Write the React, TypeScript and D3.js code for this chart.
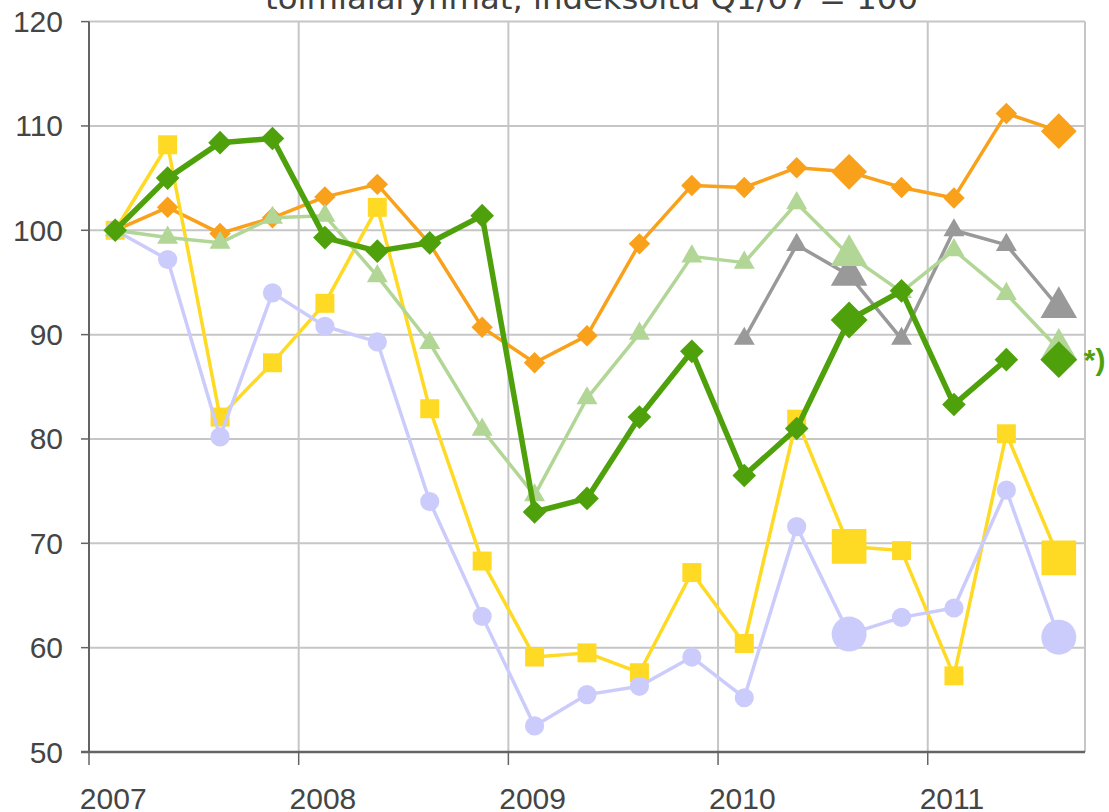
import React from "react";
import * as d3 from "d3";

// quarters on the category axis
const quarters = [
  "2007Q1", "2007Q2", "2007Q3", "2007Q4",
  "2008Q1", "2008Q2", "2008Q3", "2008Q4",
  "2009Q1", "2009Q2", "2009Q3", "2009Q4",
  "2010Q1", "2010Q2", "2010Q3", "2010Q4",
  "2011Q1", "2011Q2", "2011Q3",
];
const yearLabels = ["2007", "2008", "2009", "2010", "2011"];
const yTicks = [50, 60, 70, 80, 90, 100, 110, 120];
const highlighted = ["2010Q3", "2011Q3"];

const orange = [100, 102.2, 99.7, 101.2, 103.2, 104.4, 98.7, 90.7, 87.3, 89.9, 98.7, 104.3, 104.1, 106.0, 105.6, 104.1, 103.1, 111.2, 109.5];
const yellow = [100, 108.2, 82.1, 87.3, 93.0, 102.2, 82.9, 68.3, 59.1, 59.5, 57.6, 67.2, 60.4, 81.9, 69.7, 69.3, 57.3, 80.5, 68.6];
const lavender = [100, 97.2, 80.2, 94.0, 90.8, 89.3, 74.0, 63.0, 52.5, 55.5, 56.3, 59.1, 55.2, 71.6, 61.3, 62.9, 63.8, 75.1, 61.0];
const gray = [null, null, null, null, null, null, null, null, null, null, null, null, 89.6, 98.6, 95.7, 89.6, 100.0, 98.6, 92.6];
const lightGreen = [100, 99.3, 98.8, 101.2, 101.4, 95.6, 89.2, 80.9, 74.6, 83.9, 90.1, 97.5, 96.9, 102.6, 97.6, 94.1, 98.1, 93.9, 88.6];
const darkGreen = [100, 105.0, 108.4, 108.8, 99.3, 98.0, 98.8, 101.4, 73.0, 74.3, 82.1, 88.4, 76.5, 81.0, 91.4, 94.2, 83.3, 87.6, 87.6];
// the last dark green point is drawn on its own, with the "*)" note
const darkGreenDetached = "2011Q3";

const title = "toimialaryhmät, indeksoitu Q1/07 = 100";

const W = 1109, H = 812;
const left = 89, right = 1085, top = 21.6, bottom = 752;

const series = [
  { name: "orange", values: orange, color: "#f9a11b", width: 3.5, shape: "diamond", small: 230, big: 640 },
  { name: "yellow", values: yellow, color: "#ffda24", width: 3.5, shape: "square", small: 360, big: 1200 },
  { name: "lavender", values: lavender, color: "#ccccfc", width: 3.5, shape: "circle", small: 290, big: 960 },
  { name: "gray", values: gray, color: "#999999", width: 3.5, shape: "triangle", small: 190, big: 580 },
  { name: "lightGreen", values: lightGreen, color: "#b2d696", width: 3.5, shape: "triangle", small: 190, big: 580 },
  { name: "darkGreen", values: darkGreen, color: "#4fa10c", width: 5.5, shape: "diamond", small: 280, big: 680 },
];

const symbolTypes = {
  diamond: d3.symbolSquare,
  square: d3.symbolSquare,
  circle: d3.symbolCircle,
  triangle: d3.symbolTriangle,
};

export default function App() {
  const x = d3.scaleBand().domain(quarters).range([left, right]);
  const xc = (q) => x(q) + x.bandwidth() / 2;
  const y = d3.scaleLinear().domain([50, 120]).range([bottom, top]);

  const line = d3.line()
    .defined((d) => d.v != null)
    .x((d) => xc(d.q))
    .y((d) => y(d.v));

  const yearStarts = yearLabels.map((yr) => yr + "Q1");
  const font = "'Liberation Sans', Arial, sans-serif";

  return (
    <svg width={W} height={H} style={{ position: "absolute", left: 0, top: 0, background: "#fff" }}>
      <text x={265} y={9} textLength={653} lengthAdjust="spacingAndGlyphs" fontFamily="'DejaVu Sans', sans-serif" fontSize={31} fill="#404040">{title}</text>

      {/* grid */}
      <g stroke="#c6c6c6" strokeWidth={2}>
        {yTicks.map((t) => (
          <line key={"h" + t} x1={left} x2={right} y1={y(t)} y2={y(t)} />
        ))}
        {yearStarts.map((q) => (
          <line key={"v" + q} x1={x(q)} x2={x(q)} y1={top} y2={bottom} />
        ))}
        <line x1={right} x2={right} y1={top} y2={bottom} />
      </g>

      {/* axes */}
      <g stroke="#646464">
        <line x1={left} x2={left} y1={top} y2={bottom} strokeWidth={2} />
        <line x1={left - 8} x2={right} y1={bottom} y2={bottom} strokeWidth={2.5} />
        {yTicks.map((t) => (
          <line key={"yt" + t} x1={left - 8} x2={left} y1={y(t)} y2={y(t)} strokeWidth={1.5} />
        ))}
        {yearStarts.map((q) => (
          <line key={"xt" + q} x1={x(q)} x2={x(q)} y1={bottom} y2={bottom + 13} strokeWidth={1.5} />
        ))}
      </g>
      <g fontFamily={font} fontSize={30} fill="#454545">
        {yTicks.map((t) => (
          <text key={"yl" + t} x={63} y={y(t) + 10.5} textAnchor="end">{t}</text>
        ))}
        {yearLabels.map((yr, i) => (
          <text key={"xl" + yr} x={xc(yearStarts[i]) - 2} y={809} textAnchor="middle">{yr}</text>
        ))}
      </g>

      {/* series */}
      {series.map((s) => {
        const pts = quarters.map((q, i) => ({ q, v: s.values[i] }));
        const linePts = pts.map((p) =>
          s.name === "darkGreen" && p.q === darkGreenDetached ? { q: p.q, v: null } : p
        );
        return (
          <g key={s.name}>
            <path d={line(linePts)} fill="none" stroke={s.color} strokeWidth={s.width} strokeLinejoin="round" />
            {pts.filter((p) => p.v != null).map((p) => {
              const big = highlighted.includes(p.q);
              const sym = d3.symbol().type(symbolTypes[s.shape]).size(big ? s.big : s.small)();
              const rot = s.shape === "diamond" ? " rotate(45)" : "";
              return (
                <path key={p.q} d={sym} fill={s.color}
                  transform={`translate(${xc(p.q)},${y(p.v)})${rot}`} />
              );
            })}
          </g>
        );
      })}

      <text x={xc(darkGreenDetached) + 25} y={y(darkGreen[darkGreen.length - 1]) + 10}
        fontFamily={font} fontSize={30} fontWeight="bold" fill="#4fa10c">*)</text>
    </svg>
  );
}
